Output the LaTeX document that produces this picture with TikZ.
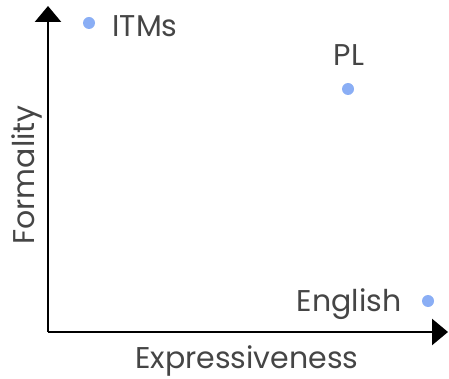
\documentclass[tikz,border=0pt]{standalone}
\usepackage{fontspec}
\setmainfont{Poppins}
\usetikzlibrary{arrows.meta}
\definecolor{dotblue}{HTML}{8AAEF5}
\definecolor{labelgray}{HTML}{454545}
\begin{document}
\begin{tikzpicture}[x=1pt,y=-1pt]
  \tikzstyle{every node}=[text=labelgray,font=\fontsize{30}{34}\selectfont]
  \tikzstyle{axis}=[line width=2.6pt,-{Triangle[length=16pt,width=26pt]}]
  \tikzstyle{dot}=[circle,fill=dotblue,inner sep=0pt,minimum size=12pt]
  \useasboundingbox (0,0) rectangle (449,379);
  \coordinate (o) at (48,332);
  \coordinate (ytip) at (48,6);
  \coordinate (xtip) at (448,332);
  \draw[axis] (o) -- (ytip);
  \draw[axis] (o) -- (xtip);
  \node (xlab) at (247,361) {Expressiveness};
  \node[rotate=90] (ylab) at (27,175) {Formality};
  % languages
  \node[dot] (itms) at (89,23) {};
  \node[anchor=west] (itmslab) at (109,26) {ITMs};
  \node[dot] (pl) at (348,89) {};
  \node (pllab) at (349,55) {PL};
  \node[dot] (en) at (428,301) {};
  \node[anchor=east] (enlab) at (405,304) {English};
\end{tikzpicture}
\end{document}
